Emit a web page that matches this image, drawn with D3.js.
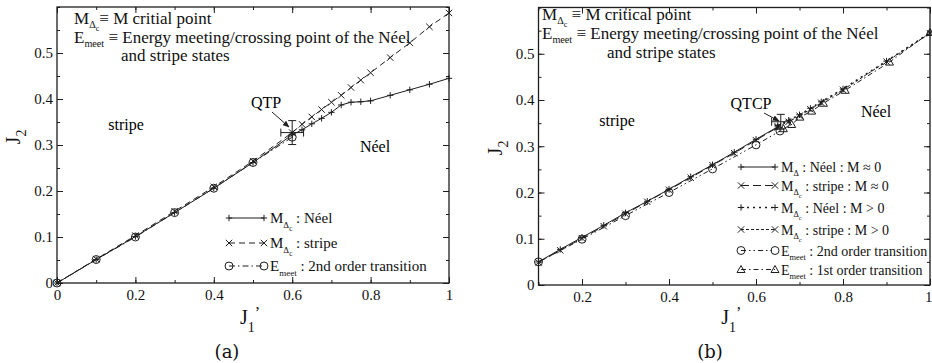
<!DOCTYPE html>
<html>
<head>
<meta charset="utf-8">
<script src="https://cdn.jsdelivr.net/npm/d3@7"></script>
<style>
  body { margin: 0; background: #fff; }
  svg { display: block; font-family: "Liberation Serif", "Times New Roman", serif; }
</style>
</head>
<body>
<svg id="svg" width="932" height="363"></svg>
<script>
// ---------- panel (a) data ----------
var aTicksX = [0, 0.2, 0.4, 0.6, 0.8, 1];
var aTicksY = [0, 0.1, 0.2, 0.3, 0.4, 0.5];
var aNeelX = [0, 0.1, 0.2, 0.3, 0.4, 0.5, 0.6, 0.625, 0.65, 0.675, 0.7, 0.725, 0.75, 0.775, 0.8, 0.85, 0.9, 0.95, 1];
var aNeelY = [0, 0.051, 0.101, 0.153, 0.206, 0.262, 0.322, 0.333, 0.346, 0.358, 0.371, 0.387, 0.393, 0.394, 0.396, 0.408, 0.42, 0.432, 0.445];
var aStripeX = [0, 0.1, 0.2, 0.3, 0.4, 0.5, 0.6, 0.625, 0.65, 0.675, 0.7, 0.725, 0.75, 0.775, 0.8, 0.85, 0.9, 0.95, 1];
var aStripeY = [0, 0.052, 0.103, 0.156, 0.209, 0.265, 0.327, 0.345, 0.361, 0.377, 0.393, 0.408, 0.425, 0.441, 0.457, 0.49, 0.522, 0.557, 0.587];
var aEmeetX = [0, 0.1, 0.2, 0.3, 0.4, 0.5, 0.6];
var aEmeetY = [0, 0.051, 0.1, 0.153, 0.206, 0.262, 0.317];
var aQtpX = [0.6], aQtpY = [0.327], aQtpErrX = [0.029], aQtpErrY = [0.026];

// ---------- panel (b) data ----------
var bTicksX = [0.2, 0.4, 0.6, 0.8, 1];
var bTicksY = [0, 0.1, 0.2, 0.3, 0.4, 0.5];
var bNeel0X = [0.1, 0.15, 0.2, 0.25, 0.3, 0.35, 0.4, 0.45, 0.5, 0.55, 0.6, 0.65];
var bNeel0Y = [0.05, 0.077, 0.103, 0.129, 0.156, 0.181, 0.207, 0.234, 0.26, 0.287, 0.315, 0.342];
var bStripe0X = [0.1, 0.15, 0.2, 0.25, 0.3, 0.35, 0.4, 0.45, 0.5, 0.55, 0.6, 0.65];
var bStripe0Y = [0.049, 0.075, 0.101, 0.127, 0.154, 0.18, 0.206, 0.232, 0.259, 0.285, 0.313, 0.341];
var bNeel1X = [0.65, 0.675, 0.7, 0.725, 0.75, 0.8, 0.9, 1];
var bNeel1Y = [0.345, 0.356, 0.368, 0.382, 0.396, 0.424, 0.484, 0.545];
var bStripe1X = [0.65, 0.675, 0.7, 0.725, 0.75, 0.8, 0.9, 1];
var bStripe1Y = [0.343, 0.353, 0.366, 0.38, 0.394, 0.422, 0.483, 0.544];
var bE2X = [0.1, 0.2, 0.3, 0.4, 0.5, 0.6, 0.655];
var bE2Y = [0.05, 0.099, 0.15, 0.2, 0.251, 0.303, 0.333];
var bE1X = [0.663, 0.682, 0.701, 0.728, 0.755, 0.805, 0.907, 1];
var bE1Y = [0.338, 0.347, 0.363, 0.376, 0.393, 0.421, 0.482, 0.546];
var bQtcpX = [0.657], bQtcpY = [0.353], bQtcpErrX = [0.021], bQtcpErrY = [0.016];

var ink = "#1e1e1e";
var svg = d3.select("#svg");

var defs = svg.append("defs");
defs.append("marker")
  .attr("id", "arrow")
  .attr("viewBox", "0 0 10 10")
  .attr("refX", 9).attr("refY", 5)
  .attr("markerWidth", 7).attr("markerHeight", 7)
  .attr("orient", "auto")
  .append("path")
  .attr("d", "M0,1 L10,5 L0,9 Z")
  .attr("fill", ink);

function fmt(d) {
  return String(+d.toFixed(2));
}

function shape(type, s) {
  if (type === "plus") return "M" + -s + ",0H" + s + "M0," + -s + "V" + s;
  if (type === "times") return "M" + -s + "," + -s + "L" + s + "," + s + "M" + -s + "," + s + "L" + s + "," + -s;
  if (type === "tri") return "M0," + -s + "L" + s + "," + s * 0.75 + "L" + -s + "," + s * 0.75 + "Z";
  return "";
}

function drawMark(g, type, cx, cy) {
  if (type === "circle") {
    g.append("circle").attr("cx", cx).attr("cy", cy).attr("r", 4)
      .attr("fill", "none").attr("stroke", ink).attr("stroke-width", 1);
  } else {
    g.append("path").attr("d", shape(type, type === "tri" ? 4 : 3.2))
      .attr("transform", "translate(" + cx + "," + cy + ")")
      .attr("fill", "none").attr("stroke", ink).attr("stroke-width", 1);
  }
}

// text with sub / sub-sub levels
function rich(g, x, y, parts, size, offs) {
  offs = offs || [0, 0.3, 0.55];
  var t = g.append("text").attr("x", x).attr("y", y).attr("font-size", size).attr("fill", "#111");
  var cur = 0;
  parts.forEach(function (p) {
    var lvl = p[1] || 0;
    var off = offs[lvl] * size;
    t.append("tspan")
      .attr("dy", off - cur)
      .attr("font-size", size * [1, 0.6, 0.48][lvl])
      .text(p[0]);
    cur = off;
  });
  return t;
}

function drawPanel(o) {
  var g = svg.append("g");
  var x = d3.scaleLinear().domain(o.xDomain).range([o.left, o.right]);
  var y = d3.scaleLinear().domain([0, 0.6]).range([o.bottom, o.top]);
  var minorX = d3.range(o.xDomain[0], 1.0001, 0.1);
  var minorY = d3.range(0, 0.6001, 0.05);

  function styleAxis(sel) {
    sel.select(".domain").remove();
    sel.attr("font-family", null).attr("font-size", 15);
    sel.selectAll("line").attr("stroke", ink);
    sel.selectAll("text").attr("fill", "#111");
  }

  // major + minor ticks on all four sides, pointing inward
  var bx = g.append("g").attr("transform", "translate(0," + o.bottom + ")")
    .call(d3.axisBottom(x).tickValues(o.ticksX).tickSize(-6).tickPadding(6).tickFormat(fmt)).call(styleAxis);
  if (o.lastTickEnd) {
    // keep the last label inside the window
    bx.selectAll(".tick").filter(function (d) { return d === 1; }).select("text")
      .attr("text-anchor", "end").attr("x", 932 - o.right);
  }
  g.append("g").attr("transform", "translate(0," + o.bottom + ")")
    .call(d3.axisBottom(x).tickValues(minorX).tickSize(-3).tickFormat("")).call(styleAxis);
  g.append("g").attr("transform", "translate(0," + o.top + ")")
    .call(d3.axisTop(x).tickValues(o.ticksX).tickSize(-6).tickFormat("")).call(styleAxis);
  g.append("g").attr("transform", "translate(0," + o.top + ")")
    .call(d3.axisTop(x).tickValues(minorX).tickSize(-3).tickFormat("")).call(styleAxis);
  g.append("g").attr("transform", "translate(" + o.left + ",0)")
    .call(d3.axisLeft(y).tickValues(o.ticksY).tickSize(-6).tickPadding(4).tickFormat(fmt)).call(styleAxis);
  g.append("g").attr("transform", "translate(" + o.left + ",0)")
    .call(d3.axisLeft(y).tickValues(minorY).tickSize(-3).tickFormat("")).call(styleAxis);
  g.append("g").attr("transform", "translate(" + o.right + ",0)")
    .call(d3.axisRight(y).tickValues(o.ticksY).tickSize(-6).tickFormat("")).call(styleAxis);
  g.append("g").attr("transform", "translate(" + o.right + ",0)")
    .call(d3.axisRight(y).tickValues(minorY).tickSize(-3).tickFormat("")).call(styleAxis);

  g.append("rect")
    .attr("x", o.left).attr("y", o.top)
    .attr("width", o.right - o.left).attr("height", o.bottom - o.top)
    .attr("fill", "none").attr("stroke", ink).attr("stroke-width", 1.3);

  // series
  var line = d3.line().x(function (d) { return x(d[0]); }).y(function (d) { return y(d[1]); });
  o.series.forEach(function (s) {
    var pts = d3.zip(s.x, s.y);
    g.append("path").datum(pts).attr("d", line)
      .attr("fill", "none").attr("stroke", ink).attr("stroke-width", s.w || 1)
      .attr("stroke-dasharray", s.dash || null);
    pts.forEach(function (p) { drawMark(g, s.mark, x(p[0]), y(p[1])); });
  });

  // error bars at the tricritical point
  var ex = x(o.err.x[0]), ey = y(o.err.y[0]);
  var x0 = x(o.err.x[0] - o.err.ex[0]), x1 = x(o.err.x[0] + o.err.ex[0]);
  var y0 = y(o.err.y[0] - o.err.ey[0]), y1 = y(o.err.y[0] + o.err.ey[0]);
  var eb = g.append("g").attr("stroke", ink).attr("stroke-width", 1);
  eb.append("line").attr("x1", ex).attr("x2", ex).attr("y1", y0).attr("y2", y1);
  eb.append("line").attr("x1", ex - 4).attr("x2", ex + 4).attr("y1", y0).attr("y2", y0);
  eb.append("line").attr("x1", ex - 4).attr("x2", ex + 4).attr("y1", y1).attr("y2", y1);
  eb.append("line").attr("x1", x0).attr("x2", x1).attr("y1", ey).attr("y2", ey);
  eb.append("line").attr("x1", x0).attr("x2", x0).attr("y1", ey - 4).attr("y2", ey + 4);
  eb.append("line").attr("x1", x1).attr("x2", x1).attr("y1", ey - 4).attr("y2", ey + 4);

  // legend
  o.legend.forEach(function (l, i) {
    var ly = o.legendY[i];
    g.append("line").attr("x1", o.legendX[0]).attr("x2", o.legendX[1]).attr("y1", ly).attr("y2", ly)
      .attr("stroke", ink).attr("stroke-width", l.w || 1).attr("stroke-dasharray", l.dash || null);
    drawMark(g, l.mark, o.legendX[0], ly);
    drawMark(g, l.mark, o.legendX[1], ly);
    rich(g, o.legendX[1] + 6, ly + 5, l.text, o.legendSize);
  });

  // axis titles
  var yl = g.append("text").attr("transform", "translate(" + (o.left - 37) + "," + o.yLabelY + ") rotate(-90)")
    .attr("text-anchor", "middle").attr("font-size", 20).attr("fill", "#111");
  yl.append("tspan").text("J");
  yl.append("tspan").attr("dy", 6).attr("font-size", 14).text("2");
  var xl = g.append("text").attr("x", (o.left + o.right) / 2 - 3).attr("y", 324)
    .attr("text-anchor", "middle").attr("font-size", 20).attr("fill", "#111");
  xl.append("tspan").text("J");
  xl.append("tspan").attr("dy", 8).attr("font-size", 14).text("1");
  xl.append("tspan").attr("dy", -14).attr("font-size", 16).text("’");

  g.append("text").attr("x", o.tagX).attr("y", 358).attr("text-anchor", "middle")
    .attr("font-family", "DejaVu Serif, serif").attr("font-size", 18).attr("fill", "#111").text(o.tag);

  return { g: g, x: x, y: y };
}

// ---------- panel (a) ----------
var pa = drawPanel({
  left: 57, right: 449, top: 7, bottom: 283,
  xDomain: [0, 1], ticksX: aTicksX, ticksY: aTicksY,
  series: [
    { x: aNeelX, y: aNeelY, mark: "plus" },
    { x: aStripeX, y: aStripeY, mark: "times", dash: "6,4" },
    { x: aEmeetX, y: aEmeetY, mark: "circle", dash: "6,3,1.5,3" }
  ],
  err: { x: aQtpX, y: aQtpY, ex: aQtpErrX, ey: aQtpErrY },
  legendX: [229, 264], legendY: [218, 243, 266], legendSize: 15,
  legend: [
    { mark: "plus", text: [["M", 0], ["Δ", 1], ["c", 2], [" : Néel", 0]] },
    { mark: "times", dash: "6,4", text: [["M", 0], ["Δ", 1], ["c", 2], [" : stripe", 0]] },
    { mark: "circle", dash: "6,3,1.5,3", text: [["E", 0], ["meet", 1], [" : 2nd order transition", 0]] }
  ],
  yLabelY: 137, tag: "(a)", tagX: 227
});
var noteOffs = [0, 0.22, 0.4];
rich(pa.g, 74, 24, [["M", 0], ["Δ", 1], ["c", 2], ["≡ M critial point", 0]], 17, noteOffs);
rich(pa.g, 74, 43, [["E", 0], ["meet", 1], [" ≡ Energy meeting/crossing point of the Néel", 0]], 17, noteOffs);
rich(pa.g, 121, 61, [["and stripe states", 0]], 17, noteOffs);
pa.g.append("text").attr("x", 126).attr("y", 130).attr("text-anchor", "middle").attr("font-size", 16).text("stripe");
pa.g.append("text").attr("x", 375).attr("y", 152).attr("text-anchor", "middle").attr("font-size", 16).text("Néel");
pa.g.append("text").attr("x", 266).attr("y", 108).attr("text-anchor", "middle").attr("font-size", 16).text("QTP");
pa.g.append("line").attr("x1", 272).attr("y1", 112).attr("x2", 289).attr("y2", 127)
  .attr("stroke", ink).attr("stroke-width", 1).attr("marker-end", "url(#arrow)");

// ---------- panel (b) ----------
var pb = drawPanel({
  left: 538.5, right: 930, top: 7.5, bottom: 285,
  xDomain: [0.1, 1], ticksX: bTicksX, ticksY: bTicksY, lastTickEnd: true,
  series: [
    { x: bNeel0X, y: bNeel0Y, mark: "plus" },
    { x: bStripe0X, y: bStripe0Y, mark: "times", dash: "8,4" },
    { x: bNeel1X, y: bNeel1Y, mark: "plus", dash: "2,4", w: 1.6 },
    { x: bStripe1X, y: bStripe1Y, mark: "times", dash: "3,2" },
    { x: bE2X, y: bE2Y, mark: "circle", dash: "5,3,1.5,3,1.5,3" },
    { x: bE1X, y: bE1Y, mark: "tri", dash: "5,3,1.5,3" }
  ],
  err: { x: bQtcpX, y: bQtcpY, ex: bQtcpErrX, ey: bQtcpErrY },
  legendX: [741, 775], legendY: [167, 185.5, 207.5, 229.5, 250.5, 269.5], legendSize: 14,
  legend: [
    { mark: "plus", text: [["M", 0], ["Δ", 1], [" : Néel : M ≈ 0", 0]] },
    { mark: "times", dash: "8,4", text: [["M", 0], ["Δ", 1], ["c", 2], [" : stripe : M ≈ 0", 0]] },
    { mark: "plus", dash: "2,4", w: 1.6, text: [["M", 0], ["Δ", 1], ["c", 2], [" : Néel : M > 0", 0]] },
    { mark: "times", dash: "3,2", text: [["M", 0], ["Δ", 1], ["c", 2], [" : stripe : M > 0", 0]] },
    { mark: "circle", dash: "5,3,1.5,3,1.5,3", text: [["E", 0], ["meet", 1], [" : 2nd order transition", 0]] },
    { mark: "tri", dash: "5,3,1.5,3", text: [["E", 0], ["meet", 1], [" : 1st order transition", 0]] }
  ],
  yLabelY: 148, tag: "(b)", tagX: 710
});
rich(pb.g, 542, 20, [["M", 0], ["Δ", 1], ["c", 2], ["  ≡ M critical point", 0]], 17, noteOffs);
rich(pb.g, 542, 39, [["E", 0], ["meet", 1], ["  ≡ Energy meeting/crossing point of the Néel", 0]], 17, noteOffs);
rich(pb.g, 607, 58, [["and stripe states", 0]], 17, noteOffs);
pb.g.append("text").attr("x", 617).attr("y", 126).attr("text-anchor", "middle").attr("font-size", 16).text("stripe");
pb.g.append("text").attr("x", 876).attr("y", 117).attr("text-anchor", "middle").attr("font-size", 16).text("Néel");
pb.g.append("text").attr("x", 751).attr("y", 109).attr("text-anchor", "middle").attr("font-size", 16).text("QTCP");
pb.g.append("line").attr("x1", 764).attr("y1", 113).attr("x2", 779).attr("y2", 121)
  .attr("stroke", ink).attr("stroke-width", 1).attr("marker-end", "url(#arrow)");
</script>
</body>
</html>
